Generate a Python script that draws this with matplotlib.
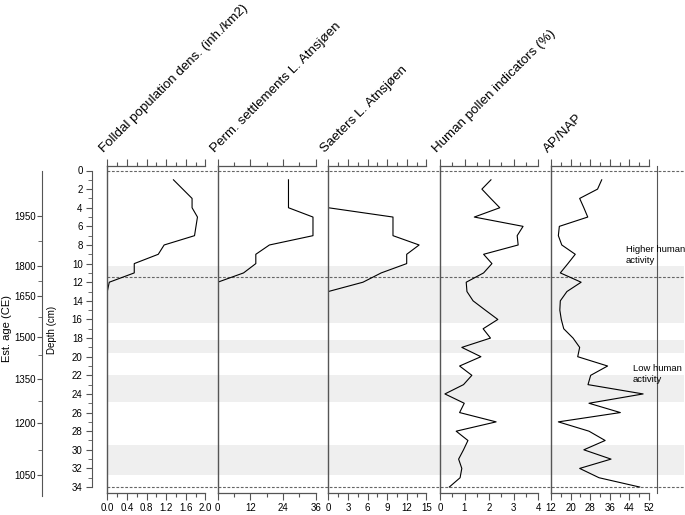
import numpy as np
import matplotlib
matplotlib.use("Agg")
import matplotlib.pyplot as plt
from matplotlib.ticker import MultipleLocator, FixedLocator

plt.rcParams['font.family'] = ['Liberation Sans', 'DejaVu Sans']

# ---- data ----
pop_depth = [1, 3, 4, 5, 7, 8, 9, 10, 11, 12, 13]
pop_dens = [1.35, 1.73, 1.73, 1.84, 1.78, 1.16, 1.04, 0.55, 0.55, 0.04, 0.0]

perm_depth = [1, 4, 5, 7, 8, 9, 10, 11, 12]
perm_sett = [26, 26, 35, 35, 19, 14, 14, 9.5, 0]

saet_depth = [4, 5, 7, 8, 9, 10, 11, 12, 13]
saeters = [0, 9.9, 9.9, 13.9, 12, 12, 8.1, 5.3, 0]

core_depth = [1, 2, 3, 4, 5, 6, 7, 8, 9, 10, 11, 12, 13, 14, 15, 16, 17,
              18, 19, 20, 21, 22, 23, 24, 25, 26, 27, 28, 29, 30, 31, 32, 33, 34]
pollen = [2.08, 1.71, 2.07, 2.44, 1.40, 3.39, 3.15, 3.19, 1.78, 2.12, 1.78, 1.07,
          1.10, 1.35, 1.85, 2.36, 1.76, 2.06, 0.89, 1.67, 0.80, 1.30, 0.96, 0.20,
          0.99, 0.80, 2.29, 0.66, 1.14, 0.96, 0.76, 0.89, 0.82, 0.38]
apnap = [32.7, 31.0, 23.7, 25.4, 27.0, 15.4, 15.0, 16.4, 21.9, 18.9, 15.8, 24.3,
         18.5, 15.8, 15.6, 16.2, 17.2, 21.0, 23.7, 22.9, 35.1, 28.2, 27.1, 49.6,
         27.5, 40.3, 15.0, 27.5, 34.1, 25.4, 36.5, 23.7, 31.6, 48.2]

titles = ["Folldal population dens. (inh./km2)", "Perm. settlements L. Atnsjøen",
          "Saeters L. Atnsjøen", "Human pollen indicators (%)", "AP/NAP"]
ranges = [(0, 2.0), (0, 36), (0, 15), (0, 4), (12, 52)]
majors = [0.4, 12, 3, 1, 8]
minors = [0.2, 6, 1.5, 0.5, 4]
fmts = ["{:.1f}", "{:.0f}", "{:.0f}", "{:.0f}", "{:.0f}"]

age_labels = [1950, 1800, 1650, 1500, 1350, 1200, 1050]
age_depth = [4.89, 10.26, 13.47, 17.85, 22.4, 27.15, 32.7]
age_minor_depth = [7.56, 11.84, 15.70, 19.82, 24.8, 30.0]

bands = [(10.26, 16.35), (18.2, 19.6), (22.0, 24.9), (29.5, 32.7)]
dashed_depths = [0, 11.45, 34]

# ---- layout in pixels ----
W, H = 685, 515
Y0, PXCM = 170.5, 9.31          # pixel of depth 0, pixels per cm
TOP, BOT = 166, 493
lefts = [107.3, 217.7, 328.3, 440.0, 551.0]
rights = [217.7, 328.3, 440.0, 551.0, 656.7]
SCALE = 98.0

def box(x0, x1, y0, y1):
    return [x0 / W, 1 - y1 / H, (x1 - x0) / W, (y1 - y0) / H]

def ylims(y0, y1):
    return ((y1 - Y0) / PXCM, (y0 - Y0) / PXCM)

fig = plt.figure(figsize=(W / 100, H / 100), dpi=100)
gray = '#555555'

# background: bands and dashed lines
bg = fig.add_axes(box(107.3, 684, TOP, BOT))
bg.set_ylim(*ylims(TOP, BOT))
bg.set_xlim(0, 1)
for a, b in bands:
    bg.axhspan(a, b, color='#efefef', lw=0)
for d in dashed_depths:
    bg.axhline(d, color='#666666', lw=0.8, ls=(0, (2.5, 1.5)))
bg.axis('off')

series = [(pop_depth, pop_dens), (perm_depth, perm_sett), (saet_depth, saeters),
          (core_depth, pollen), (core_depth, apnap)]

for i in range(5):
    ax = fig.add_axes(box(lefts[i], rights[i], TOP, BOT))
    ax.set_facecolor('none')
    lo, hi = ranges[i]
    wpx = rights[i] - lefts[i]
    d, v = series[i]
    ax.plot(v, d, color='black', lw=0.8)
    for s in ['top', 'bottom']:
        ax.spines[s].set_bounds(lo, hi)
        ax.spines[s].set_color(gray)
        ax.spines[s].set_linewidth(0.9)
    ax.spines['left'].set_color(gray)
    ax.spines['left'].set_linewidth(1.0)
    ax.spines['right'].set_visible(i == 4)
    ax.spines['right'].set_color(gray)
    mt = np.arange(lo, hi + 1e-6, majors[i])
    ax.set_xticks(mt, [fmts[i].format(t) for t in mt])
    ax.set_xticks(np.arange(lo, hi + 1e-6, minors[i]), minor=True)
    ax.tick_params(axis='x', which='both', top=True, bottom=True, direction='out',
                   color=gray, labelsize=7, pad=2)
    ax.tick_params(axis='x', which='major', length=5, width=0.8)
    ax.tick_params(axis='x', which='minor', length=3, width=0.8)
    ax.set_yticks([])
    ax.set_xlim(lo, lo + (hi - lo) * wpx / SCALE)
    ax.set_ylim(*ylims(TOP, BOT))
    fig.text((lefts[i] - 3) / W, 1 - 153 / H, titles[i], rotation=45,
             rotation_mode='anchor', ha='left', va='baseline', fontsize=9.6)

# depth axis
dax = fig.add_axes(box(91.7, 92.7, TOP, BOT))
dax.set_facecolor('none')
for s in ['top', 'bottom', 'right']:
    dax.spines[s].set_visible(False)
dax.spines['left'].set_bounds(0, 34)
dax.spines['left'].set_color(gray)
dax.set_xticks([])
dax.yaxis.set_major_locator(MultipleLocator(2))
dax.yaxis.set_minor_locator(MultipleLocator(1))
dax.tick_params(axis='y', which='both', direction='out', color=gray, labelsize=7, pad=2)
dax.tick_params(axis='y', which='major', length=4.5)
dax.tick_params(axis='y', which='minor', length=3)
dax.set_ylim(*ylims(TOP, BOT))

# age axis
aax = fig.add_axes(box(41.7, 42.7, TOP, 499))
aax.set_facecolor('none')
for s in ['top', 'bottom', 'right']:
    aax.spines[s].set_visible(False)
aax.spines['left'].set_bounds(0, 35.0)
aax.spines['left'].set_color(gray)
aax.set_xticks([])
aax.yaxis.set_major_locator(FixedLocator(age_depth))
aax.set_yticklabels([str(a) for a in age_labels])
aax.yaxis.set_minor_locator(FixedLocator(age_minor_depth))
aax.tick_params(axis='y', which='both', direction='out', color=gray, labelsize=7, pad=1)
aax.tick_params(axis='y', which='major', length=3.5)
aax.tick_params(axis='y', which='minor', length=3)
aax.set_ylim(*ylims(TOP, 499))

fig.text(7 / W, 1 - 328 / H, "Est. age (CE)", rotation=90, ha='center', va='center', fontsize=8)
fig.text(52 / W, 1 - 330 / H, "Depth (cm)", rotation=90, ha='center', va='center', fontsize=7)

fig.text(626 / W, 1 - 245 / H, "Higher human\nactivity", ha='left', va='top',
         fontsize=6.8, linespacing=1.3)
fig.text(632.7 / W, 1 - 364 / H, "Low human\nactivity", ha='left', va='top',
         fontsize=6.8, linespacing=1.3)

fig.savefig("out.png", dpi=100)
